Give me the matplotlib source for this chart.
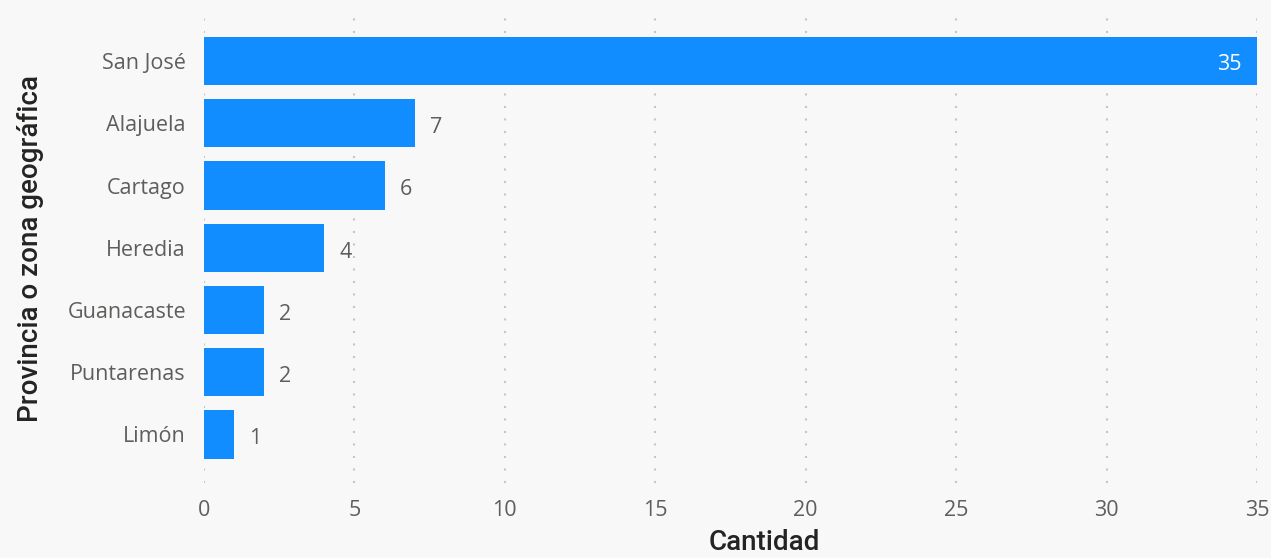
import matplotlib
matplotlib.use("Agg")
import matplotlib.pyplot as plt

categorias = ["San José", "Alajuela", "Cartago", "Heredia", "Guanacaste", "Puntarenas", "Limón"]
cantidad = [35, 7, 6, 4, 2, 2, 1]
xticks = [0, 5, 10, 15, 20, 25, 30, 35]

BG = "#f8f8f8"
BAR = "#118DFF"
TXT = "#605E5C"
TITLE = "#252423"

fig = plt.figure(figsize=(12.71, 5.58), dpi=100, facecolor=BG)
ax = fig.add_axes([204/1271, 1-483/558, (1257-204)/1271, (483-15)/558], facecolor=BG)

y = list(range(len(categorias)))
ax.barh(y, cantidad, height=0.775, color=BAR, zorder=3)
ax.set_ylim(len(categorias) - 1 + 0.78, -0.74)
ax.set_xlim(0, 35)

ax.set_xticks(xticks)
ax.set_xticklabels([str(t) for t in xticks], fontsize=15.5, color=TXT, family="Open Sans")
ax.set_yticks(y)
ax.set_yticklabels(categorias, fontsize=15.5, color=TXT, family="Open Sans")
ax.tick_params(axis="x", length=0, pad=12)
ax.tick_params(axis="y", length=0, pad=13)

ax.grid(axis="x", color="#C8C6C4", linestyle=(0, (1, 5)), linewidth=1.5, zorder=0)
ax.grid(axis="y", visible=False)
for s in ax.spines.values():
    s.set_visible(False)

for yi, v in zip(y, cantidad):
    if v == max(cantidad):
        ax.text(v - 0.5, yi + 0.05, str(v), ha="right", va="center", color="white",
                fontsize=15.5, family="Open Sans", zorder=4)
    else:
        ax.text(v + 0.5, yi + 0.07, str(v), ha="left", va="center", color=TXT,
                fontsize=15.5, family="Open Sans", zorder=4)

ax.set_xlabel("Cantidad", fontsize=20, color=TITLE, family="Roboto", fontweight="medium")
ax.xaxis.set_label_coords(0.532, -0.098)
ax.set_ylabel("Provincia o zona geográfica", fontsize=20, color=TITLE, family="Roboto",
              fontweight="medium", labelpad=17)

fig.savefig("out.png", dpi=100, facecolor=BG)
